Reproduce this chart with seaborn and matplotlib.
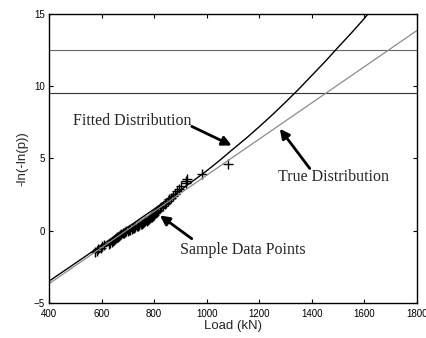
import matplotlib
matplotlib.use('Agg')
import matplotlib.pyplot as plt
import seaborn as sns

# sample data points (load in kN, reduced variate -ln(-ln(p)))
sample_load = [575, 581, 588, 596, 603, 609, 628, 633, 638, 642, 646, 650, 655, 659,
               663, 667, 671, 675, 680, 684, 689, 694, 699, 704, 709, 714, 719, 724,
               729, 734, 739, 744, 749, 754, 758, 763, 767, 771, 775, 779, 783, 787,
               791, 795, 799, 803, 807, 811, 816, 821, 827, 833, 840, 846, 852, 858,
               865, 872, 880, 888, 896, 903, 921, 923, 926, 982, 1080]
sample_y = [-1.48, -1.38, -1.28, -1.18, -1.09, -1.01, -0.92, -0.84, -0.77, -0.70, -0.64,
            -0.58, -0.52, -0.46, -0.41, -0.35, -0.30, -0.24, -0.19, -0.14, -0.09, -0.05,
            0.00, 0.04, 0.08, 0.12, 0.17, 0.21, 0.25, 0.30, 0.34, 0.39, 0.44, 0.49, 0.54,
            0.59, 0.64, 0.69, 0.75, 0.80, 0.86, 0.92, 0.98, 1.05, 1.12, 1.20, 1.28, 1.37,
            1.46, 1.55, 1.64, 1.74, 1.84, 1.95, 2.06, 2.18, 2.30, 2.43, 2.57, 2.73, 2.90,
            3.10, 3.30, 3.45, 3.60, 3.90, 4.65]

# fitted distribution curve
fit_load = [400, 500, 600, 700, 800, 900, 1000, 1050, 1100, 1150, 1200, 1250, 1300,
            1350, 1400, 1450, 1500, 1550, 1600, 1620]
fit_y = [-3.49, -2.25, -1.0, 0.25, 1.5, 2.8, 4.15, 4.88, 5.65, 6.4, 7.2, 8.03, 8.9,
         9.8, 10.75, 11.7, 12.7, 13.68, 14.7, 15.15]

# true distribution (straight line)
true_load = [400, 1800]
true_y = [-3.67, 13.86]

# horizontal reference levels
levels = [12.5, 9.5]
level_colors = ['#666666', '#333333']

sns.set_style('ticks')
plt.rcParams['font.family'] = ['Liberation Sans', 'DejaVu Sans']

fig = plt.figure(figsize=(4.27, 3.38), dpi=100)
ax = fig.add_axes([0.1148, 0.1036, 0.8618, 0.855])

for lv, c in zip(levels, level_colors):
    ax.axhline(lv, color=c, lw=0.8)

sns.lineplot(x=true_load, y=true_y, ax=ax, color='#8c8c8c', lw=0.9)
sns.lineplot(x=fit_load, y=fit_y, ax=ax, color='black', lw=1.0)
sns.scatterplot(x=sample_load, y=sample_y, ax=ax, marker='+', color='black',
                s=50, linewidth=1.0)

ax.set_xlim(400, 1800)
ax.set_ylim(-5, 15)
ax.set_xticks(range(400, 1801, 200))
ax.set_yticks([-5, 0, 5, 10, 15])
ax.tick_params(direction='in', length=3, width=0.8, labelsize=7, pad=3,
               top=True, right=True, colors='black')
ax.tick_params(axis='x', pad=4)
for s in ax.spines.values():
    s.set_linewidth(1.0)
    s.set_color('black')

ax.set_xlabel('Load (kN)', fontsize=9.5, labelpad=1)
ax.set_ylabel('-ln(-ln(p))', fontsize=9.5, labelpad=4)

serif = ['Liberation Serif', 'DejaVu Serif']
arrow = dict(arrowstyle='-|>', color='black', lw=2, mutation_scale=14, shrinkA=0, shrinkB=0)
ax.text(491, 7.56, 'Fitted Distribution', fontsize=11.5, family=serif, va='center', ha='left')
ax.annotate('', xy=(1095, 5.9), xytext=(943, 7.22), arrowprops=arrow)
ax.text(1271, 3.71, 'True Distribution', fontsize=11.5, family=serif, va='center', ha='left')
ax.annotate('', xy=(1278, 7.06), xytext=(1392, 4.31), arrowprops=arrow)
ax.text(898, -1.31, 'Sample Data Points', fontsize=11.5, family=serif, va='center', ha='left')
ax.annotate('', xy=(822, 1.06), xytext=(943, -0.55), arrowprops=arrow)

fig.savefig('out.png', dpi=100)
